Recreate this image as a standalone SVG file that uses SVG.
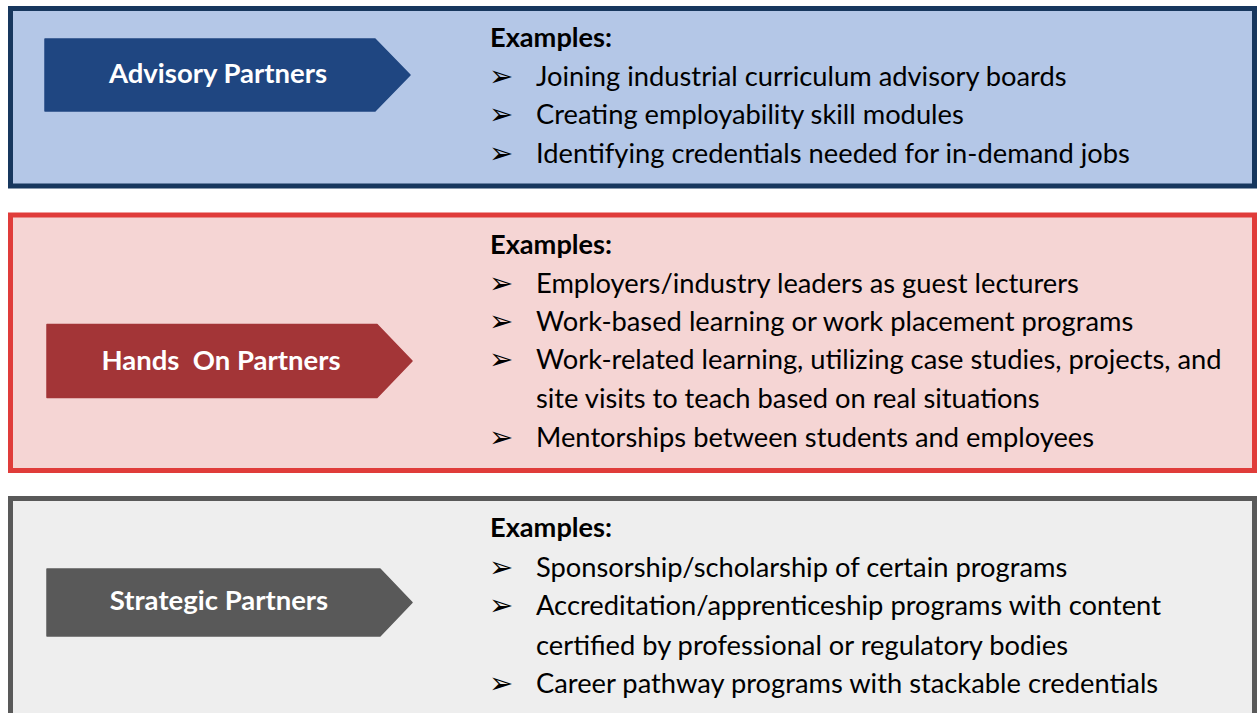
<svg xmlns="http://www.w3.org/2000/svg" width="1257" height="713" viewBox="0 0 1257 713">
<style>
.title{font-family:Lato,"Liberation Sans",sans-serif;font-weight:bold;font-size:27.5px;fill:#ffffff;text-anchor:middle}
.hd{font-family:Lato,"Liberation Sans",sans-serif;font-weight:bold;font-size:27.2px;fill:#000000}
.tx{font-family:Lato,"Liberation Sans",sans-serif;font-size:27.3px;fill:#000000}
.bl{font-family:"DejaVu Sans",sans-serif;font-size:29px;fill:#000000}
</style>
<rect width="1257" height="713" fill="#ffffff"/>
<g id="advisory">
<rect x="10.5" y="8.5" width="1244" height="177.5" fill="#b4c7e7" stroke="#17375e" stroke-width="5"/>
<path d="M45,39 L375,39 L410,75 L375,111 L45,111 Z" fill="#1f4681" stroke="#1f4681" stroke-width="1.5" stroke-linejoin="round"/>
<text class="title" x="218" y="83">Advisory Partners</text>
<text class="hd" x="490" y="47">Examples:</text>
<text class="bl" x="489" y="86">➢</text>
<text class="tx" x="536" y="86">Joining industrial curriculum advisory boards</text>
<text class="bl" x="489" y="124">➢</text>
<text class="tx" x="536" y="124">Creating employability skill modules</text>
<text class="bl" x="489" y="163">➢</text>
<text class="tx" x="536" y="163">Identifying credentials needed for in-demand jobs</text>
</g>
<g id="handson">
<rect x="10.5" y="215" width="1244" height="255.5" fill="#f5d5d4" stroke="#e03c3a" stroke-width="5"/>
<path d="M47,324.5 L377,324.5 L412,361 L377,397.5 L47,397.5 Z" fill="#a33537" stroke="#a33537" stroke-width="1.5" stroke-linejoin="round"/>
<text class="title" x="221" y="370" xml:space="preserve">Hands  On Partners</text>
<text class="hd" x="490" y="254">Examples:</text>
<text class="bl" x="489" y="293">➢</text>
<text class="tx" x="536" y="293">Employers/industry leaders as guest lecturers</text>
<text class="bl" x="489" y="331">➢</text>
<text class="tx" x="536" y="331">Work-based learning or work placement programs</text>
<text class="bl" x="489" y="369">➢</text>
<text class="tx" x="536" y="369">Work-related learning, utilizing case studies, projects, and</text>
<text class="tx" x="536" y="408">site visits to teach based on real situations</text>
<text class="bl" x="489" y="447">➢</text>
<text class="tx" x="536" y="447">Mentorships between students and employees</text>
</g>
<g id="strategic">
<rect x="10.5" y="498.5" width="1244" height="230" fill="#eeeeee" stroke="#595959" stroke-width="5"/>
<path d="M47,569 L380,569 L412,602.5 L380,636 L47,636 Z" fill="#595959" stroke="#595959" stroke-width="1.5" stroke-linejoin="round"/>
<text class="title" x="219" y="610">Strategic Partners</text>
<text class="hd" x="490" y="537">Examples:</text>
<text class="bl" x="489" y="577">➢</text>
<text class="tx" x="536" y="577">Sponsorship/scholarship of certain programs</text>
<text class="bl" x="489" y="615">➢</text>
<text class="tx" x="536" y="615">Accreditation/apprenticeship programs with content</text>
<text class="tx" x="536" y="655">certified by professional or regulatory bodies</text>
<text class="bl" x="489" y="693">➢</text>
<text class="tx" x="536" y="693">Career pathway programs with stackable credentials</text>
</g>
<g id="connectors"/>
</svg>
